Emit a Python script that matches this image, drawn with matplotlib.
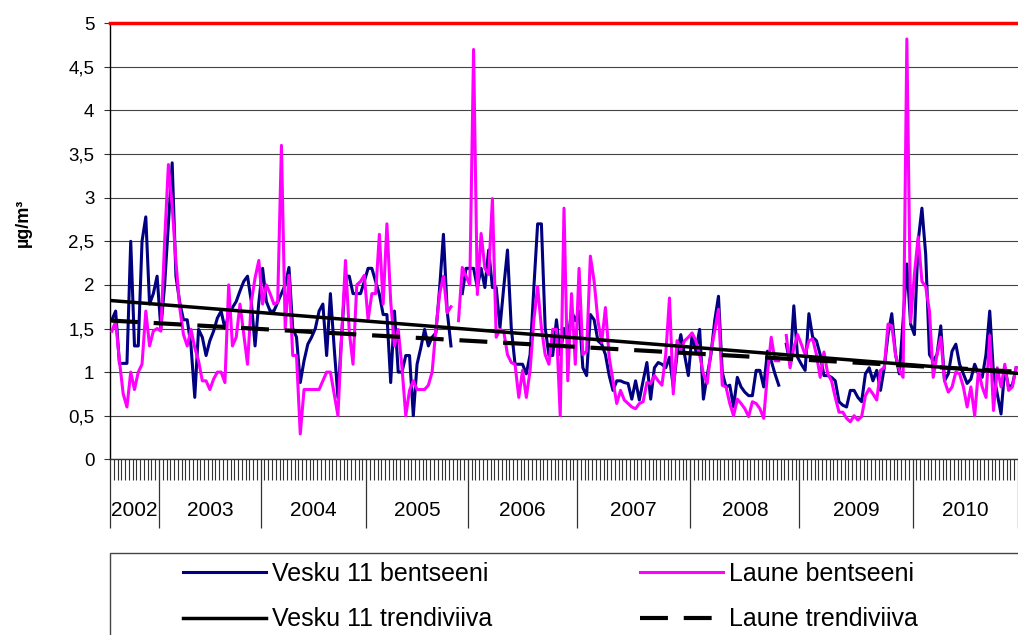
import numpy as np
import matplotlib.pyplot as plt
from matplotlib.patches import Rectangle

plt.rcParams['font.family'] = ['Liberation Sans', 'DejaVu Sans']

# ---- andmed (loetud jooniselt) ----
nan = np.nan
years = ['2002', '2003', '2004', '2005', '2006', '2007', '2008', '2009', '2010']
year_counts = [13, 27, 28, 27, 29, 30, 29, 30, 28]

vesku = [
    1.6, 1.7, 1.1, 1.1, 1.1, 2.5, 1.3, 1.3, 2.5, 2.78, 1.78, 1.9, 2.1,  # 2002
    1.5, 2.0, 2.7, 3.4, 2.1, 1.8, 1.6, 1.6, 1.3, 0.71, 1.49, 1.4, 1.19, 1.36, 1.47, 1.62,
    1.7, 1.5, 1.66, 1.74, 1.81, 1.93, 2.04, 2.1, 1.81, 1.3, 1.8,  # 2003
    2.19, 1.81, 1.7, 1.7, 1.8, 1.9, 2.0, 2.2, 1.5, 1.4, 0.88, 1.13, 1.32, 1.4, 1.5, 1.7,
    1.78, 1.19, 1.9, 1.28, 0.71, 1.43, 2.1, 2.1, 1.9, 1.9, 1.9, 2.04,  # 2004
    2.19, 2.19, 2.04, 1.89, 1.66, 1.66, 0.88, 1.7, 1.0, 1.0, 1.19, 1.19, 0.5, 1.09, 1.28,
    1.49, 1.3, 1.4, 1.45, 1.97, 2.58, 1.7, 1.3, nan, nan, 1.9, 2.19,  # 2005
    2.19, 2.19, 1.97, 2.19, 1.97, 2.4, 1.97, 1.97, 1.51, 1.97, 2.4, 1.51, 1.09, 1.09, 1.09,
    0.98, 1.2, 1.97, 2.7, 2.7, 1.51, 1.19, 1.19, 1.6, 1.2, 1.5, 1.36, 1.7, 1.59,  # 2006
    1.7, 1.05, 0.96, 1.66, 1.6, 1.36, 1.32, 1.2, 0.96, 0.79, 0.9, 0.9, 0.88, 0.87, 0.69,
    0.9, 0.68, 0.9, 1.11, 0.69, 1.05, 1.11, 1.09, 1.05, 1.17, 0.83, 1.2, 1.43, 1.2, 0.96,  # 2007
    1.43, 1.24, 1.49, 0.69, 0.96, 1.2, 1.59, 1.87, 1.0, 0.83, 0.85, 0.6, 0.94, 0.83, 0.77,
    0.73, 0.73, 1.02, 1.02, 0.83, 1.24, 1.13, 0.98, 0.85, nan, 1.32, 1.09, 1.76, 1.17,  # 2008
    1.09, 1.02, 1.67, 1.4, 1.36, 1.2, 0.96, 0.96, 0.94, 0.9, 0.66, 0.62, 0.6, 0.79, 0.79,
    0.71, 0.66, 0.98, 1.05, 0.9, 1.02, 0.79, 1.05, 1.43, 1.67, 1.2, 0.98, 1.59, 2.24, 1.55,  # 2009
    1.43, 2.5, 2.88, 2.35, 1.2, 1.13, 1.2, 1.53, 0.9, 0.98, 1.24, 1.32, 1.09, 0.98, 0.87,
    0.92, 1.09, 0.98, 0.94, 1.2, 1.7, 0.98, 0.75, 0.52, 1.05, 0.83, 0.85, 1.05,  # 2010
]

laune = [
    1.47, 1.58, 1.13, 0.75, 0.6, 1.0, 0.8, 1.0, 1.09, 1.7, 1.3, 1.47, 1.5,  # 2002
    1.47, 2.5, 3.38, 2.9, 2.27, 1.74, 1.43, 1.3, 1.49, 1.28, 1.13, 0.9, 0.9, 0.8, 0.92, 1.0,
    1.0, 0.88, 2.0, 1.3, 1.4, 1.78, 1.43, 1.09, 1.8, 2.08, 2.28,  # 2003
    1.78, 2.0, 1.9, 1.78, 1.8, 3.6, 1.5, 2.11, 1.19, 1.19, 0.29, 0.8, 0.8, 0.8, 0.8, 0.8,
    0.9, 1.0, 1.0, 0.75, 0.5, 1.43, 2.28, 1.47, 1.09, 2.0, 2.04, 2.11,  # 2004
    1.6, 1.9, 1.9, 2.58, 1.78, 2.7, 1.81, 1.3, 1.49, 1.05, 0.5, 0.79, 0.9, 0.8, 0.8, 0.8,
    0.85, 1.0, 1.5, 1.9, 2.1, 1.68, 1.75, nan, 1.59, 2.2, 2.1,  # 2005
    2.0, 4.7, 1.89, 2.59, 2.19, 2.12, 2.99, 1.4, 1.49, 1.47, 1.2, 1.11, 1.09, 0.71, 1.02,
    0.71, 1.02, 1.6, 1.98, 1.51, 1.2, 1.09, 1.49, 1.49, 0.5, 2.88, 0.9, 1.9, 1.09,  # 2006
    2.19, 1.2, 1.24, 2.33, 2.04, 1.59, 1.34, 1.74, 1.17, 0.9, 0.64, 0.79, 0.68, 0.64, 0.6,
    0.58, 0.64, 0.66, 0.88, 0.87, 0.96, 0.9, 0.85, 1.2, 1.85, 0.75, 1.36, 1.26, 1.36, 1.4,  # 2007
    1.45, 1.36, 1.2, 0.98, 0.87, 1.24, 1.47, 1.72, 0.85, 0.83, 0.64, 0.5, 0.69, 0.64, 0.58,
    0.49, 0.66, 0.64, 0.58, 0.47, 0.98, 1.4, 1.13, 1.13, nan, 1.42, 1.05, 1.28, 1.43,  # 2008
    1.32, 1.2, 1.36, 1.38, 1.2, 0.94, 1.23, 0.98, 0.9, 0.71, 0.54, 0.54, 0.47, 0.43, 0.5,
    0.45, 0.49, 0.73, 0.81, 0.75, 0.68, 1.02, 1.05, 1.55, 1.53, 1.2, 1.02, 0.94, 4.82, 1.57,  # 2009
    2.12, 2.55, 2.04, 1.98, 1.7, 0.94, 1.2, 1.4, 0.9, 0.77, 0.83, 1.0, 0.98, 0.83, 0.6,
    0.83, 0.5, 1.02, 0.83, 0.71, 1.42, 0.56, 1.05, 0.83, 1.09, 0.79, 0.83, 1.05,  # 2010
]

limit_value = 5

labels = ['Vesku 11 bentseeni', 'Vesku 11 trendiviiva', 'Laune bentseeni', 'Laune trendiviiva']

##################################################
W, H = 1018, 635
vesku = np.array(vesku)
laune = np.array(laune)
n = len(vesku)
x = np.arange(n) + 0.5

fig = plt.figure(figsize=(W / 100, H / 100), dpi=100)
ax = fig.add_axes([110 / W, 175.7 / H, 908 / W, 436 / H])

l_vesku, = ax.plot(x, vesku, color='#000080', lw=2.2, zorder=3)
l_laune, = ax.plot(x, laune, color='#FF00FF', lw=2.2, zorder=3)

# lineaarsed trendid
xt = np.array([0, n])
m = ~np.isnan(vesku)
k_v = np.polyfit(x[m], vesku[m], 1)
m = ~np.isnan(laune)
k_l = np.polyfit(x[m], laune[m], 1)
t_vesku, = ax.plot(xt, np.polyval(k_v, xt), color='black', lw=2.5, zorder=4)
t_laune, = ax.plot(xt, np.polyval(k_l, xt), color='black', lw=3, ls=(0, (6.7, 3.8)), zorder=4)

# piirväärtus
ax.axhline(limit_value, color='#FF0000', lw=2.5, clip_on=False, zorder=5)

# y telg
ax.set_ylim(0, 5)
yt = np.arange(0, 5.01, 0.5)
ax.set_yticks(yt)
ax.set_yticklabels([('%g' % v).replace('.', ',') for v in yt], fontsize=13.5)
ax.tick_params(axis='y', length=4.3, width=0.8, pad=7, color='#333333')
ax.yaxis.grid(True, color='#444444', lw=0.8)
ax.set_axisbelow(True)

# x telg: kategooriad ja aastad
ax.set_xlim(0, n)
bounds = np.concatenate([[0], np.cumsum(year_counts)])
ax.set_xticks(bounds)
ax.set_xticklabels([])
ax.set_xticks(np.arange(n + 1), minor=True)
ax.tick_params(axis='x', which='major', length=50, width=0.9, color='#333333')
ax.tick_params(axis='x', which='minor', length=15, width=0.8, color='#333333')
for yr, b0, c in zip(years, bounds[:-1], year_counts):
    ax.annotate(yr, xy=(b0 + c / 2, 0), xycoords=('data', 'axes fraction'),
                xytext=(0, -37), textcoords='offset points',
                ha='center', va='center', fontsize=15)

for s in ['top', 'right']:
    ax.spines[s].set_visible(False)
ax.spines['left'].set_color('black')
ax.spines['left'].set_linewidth(1)
ax.spines['bottom'].set_color('#333333')
ax.spines['bottom'].set_linewidth(1)

fig.text(23 / W, 1 - 223 / H, 'µg/m³', rotation=90, fontsize=13,
         fontweight='bold', ha='center', va='center')

# legend
fig.add_artist(Rectangle((110 / W, -0.1), 1.0, (H - 553) / H + 0.1,
                         transform=fig.transFigure, fill=False,
                         ec='#444444', lw=1.0, clip_on=False))
fig.legend([l_vesku, t_vesku, l_laune, t_laune], labels, ncol=2,
           loc='upper left', bbox_to_anchor=(183 / W, 1 - 562 / H),
           frameon=False, fontsize=18, handlelength=3.32, handletextpad=0.24,
           columnspacing=5.9, labelspacing=0.85, borderpad=0, borderaxespad=0)

fig.savefig('out.png', dpi=100)
